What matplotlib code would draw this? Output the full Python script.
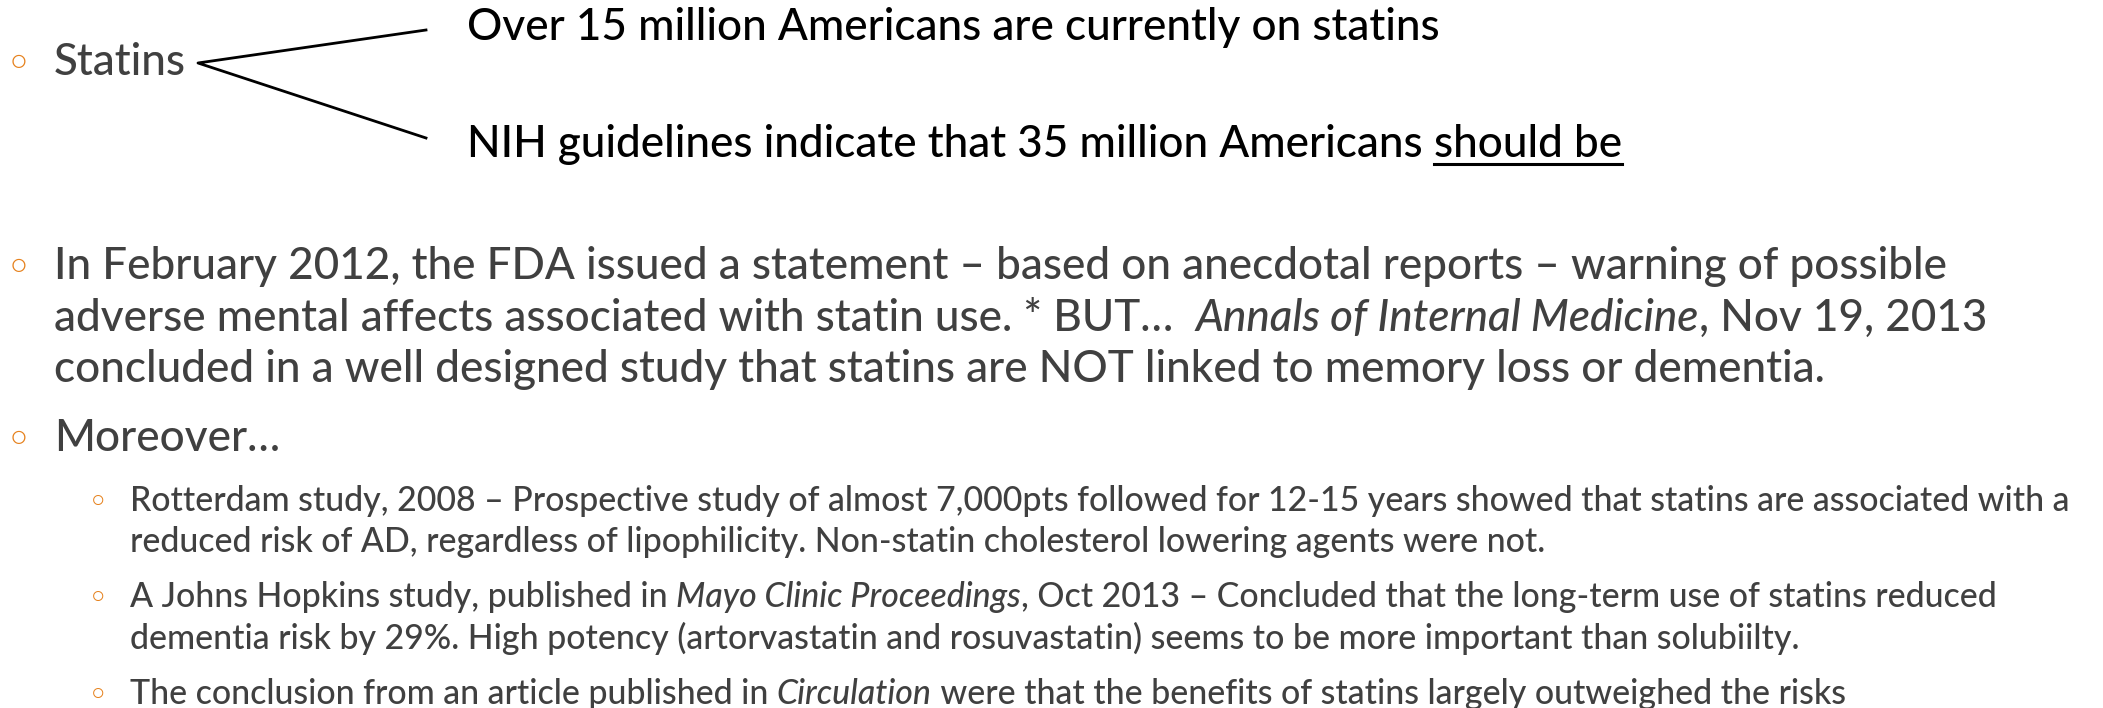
import matplotlib
matplotlib.use("Agg")
import matplotlib.pyplot as plt

# Lienzo en pixeles
W, H = 2103, 708
FONT = ["Lato", "DejaVu Sans"]
WEIGHT = "medium"
GREY = "#404040"
ORANGE = "#E6821E"

# Textos de la diapositiva
statins_label = "Statins"
top_lines = [
    [("Over 15 million Americans are currently on statins", "n")],
    [("NIH guidelines indicate that 35 million Americans ", "n"), ("should be", "u")],
]
main_lines = [
    [("In February 2012, the FDA issued a statement \u2013 based on anecdotal reports \u2013 warning of possible", "n")],
    [("adverse mental affects associated with statin use. * BUT\u2026  ", "n"),
     ("Annals of Internal Medicine", "i"), (", Nov 19, 2013", "n")],
    [("concluded in a well designed study that statins are NOT linked to memory loss or dementia.", "n")],
]
moreover_label = "Moreover\u2026"
sub_items = [
    [[("Rotterdam study, 2008 \u2013 Prospective study of almost 7,000pts followed for 12-15 years showed that statins are associated with a", "n")],
     [("reduced risk of AD, regardless of lipophilicity. Non-statin cholesterol lowering agents were not.", "n")]],
    [[("A Johns Hopkins study, published in ", "n"), ("Mayo Clinic Proceedings", "i"),
      (", Oct 2013 \u2013 Concluded that the long-term use of statins reduced", "n")],
     [("dementia risk by 29%. High potency (artorvastatin and rosuvastatin) seems to be more important than solubiilty.", "n")]],
    [[("The conclusion from an article published in ", "n"), ("Circulation", "i"),
      (" were that the benefits of statins largely outweighed the risks", "n")]],
]

# Lineas base (pixeles desde arriba)
top_y = [40, 157]
statins_y = 75
main_y = [279, 331, 382]
moreover_y = 451
sub_y = [[511, 552], [607, 649], [704]]

fig = plt.figure(figsize=(W / 100, H / 100), dpi=100)
ax = fig.add_axes([0, 0, 1, 1])
ax.set_xlim(0, W)
ax.set_ylim(H, 0)
ax.axis("off")
renderer = fig.canvas.get_renderer()


def text_width(txt, size, style="normal"):
    # medimos con 'x' a los lados para no perder espacios al final
    def w(s):
        t = ax.text(0, 0, s, fontsize=size, family=FONT, style=style, weight=WEIGHT)
        bw = t.get_window_extent(renderer).width
        t.remove()
        return bw
    return w("x" + txt + "x") - w("xx")


def fit_size(txt, target):
    return 40 * target / text_width(txt, 40)


def draw_runs(x, y, runs, size, color):
    for txt, st in runs:
        style = "italic" if st == "i" else "normal"
        ax.text(x, y, txt, fontsize=size, family=FONT, style=style, weight=WEIGHT,
                color=color, va="baseline", ha="left")
        wd = text_width(txt, size, style)
        if st == "u":
            ax.plot([x, x + wd], [y + 7, y + 7], color=color, lw=2.2)
        x += wd


def bullet(x, y, size):
    ax.text(x, y, "\u25e6", fontsize=size, family=["DejaVu Sans"], weight="bold",
            color=ORANGE, va="baseline", ha="center")


# Tamanos de letra ajustados al ancho de la referencia
top_size = fit_size(top_lines[0][0][0], 970)
main_size = fit_size(main_lines[0][0][0], 1886)
sub_size = fit_size(sub_items[0][0][0][0], 1938)

# Bloque superior
bullet(19, statins_y, main_size * 0.85)
ax.text(54, statins_y, statins_label, fontsize=main_size, family=FONT, weight=WEIGHT,
        color=GREY, va="baseline")
for runs, y in zip(top_lines, top_y):
    draw_runs(467, y, runs, top_size, "black")
ax.plot([426, 198, 426], [30, 63, 138], color="black", lw=2)

# Parrafo principal
bullet(19, main_y[0], main_size * 0.85)
for runs, y in zip(main_lines, main_y):
    draw_runs(54, y, runs, main_size, GREY)

bullet(19, moreover_y, main_size * 0.85)
ax.text(54, moreover_y, moreover_label, fontsize=main_size, family=FONT, weight=WEIGHT,
        color=GREY, va="baseline")

# Sub-puntos
for item, ys in zip(sub_items, sub_y):
    bullet(98, ys[0], sub_size * 0.85)
    for runs, y in zip(item, ys):
        draw_runs(130, y, runs, sub_size, GREY)

fig.savefig("out.png", dpi=100, facecolor="white")
